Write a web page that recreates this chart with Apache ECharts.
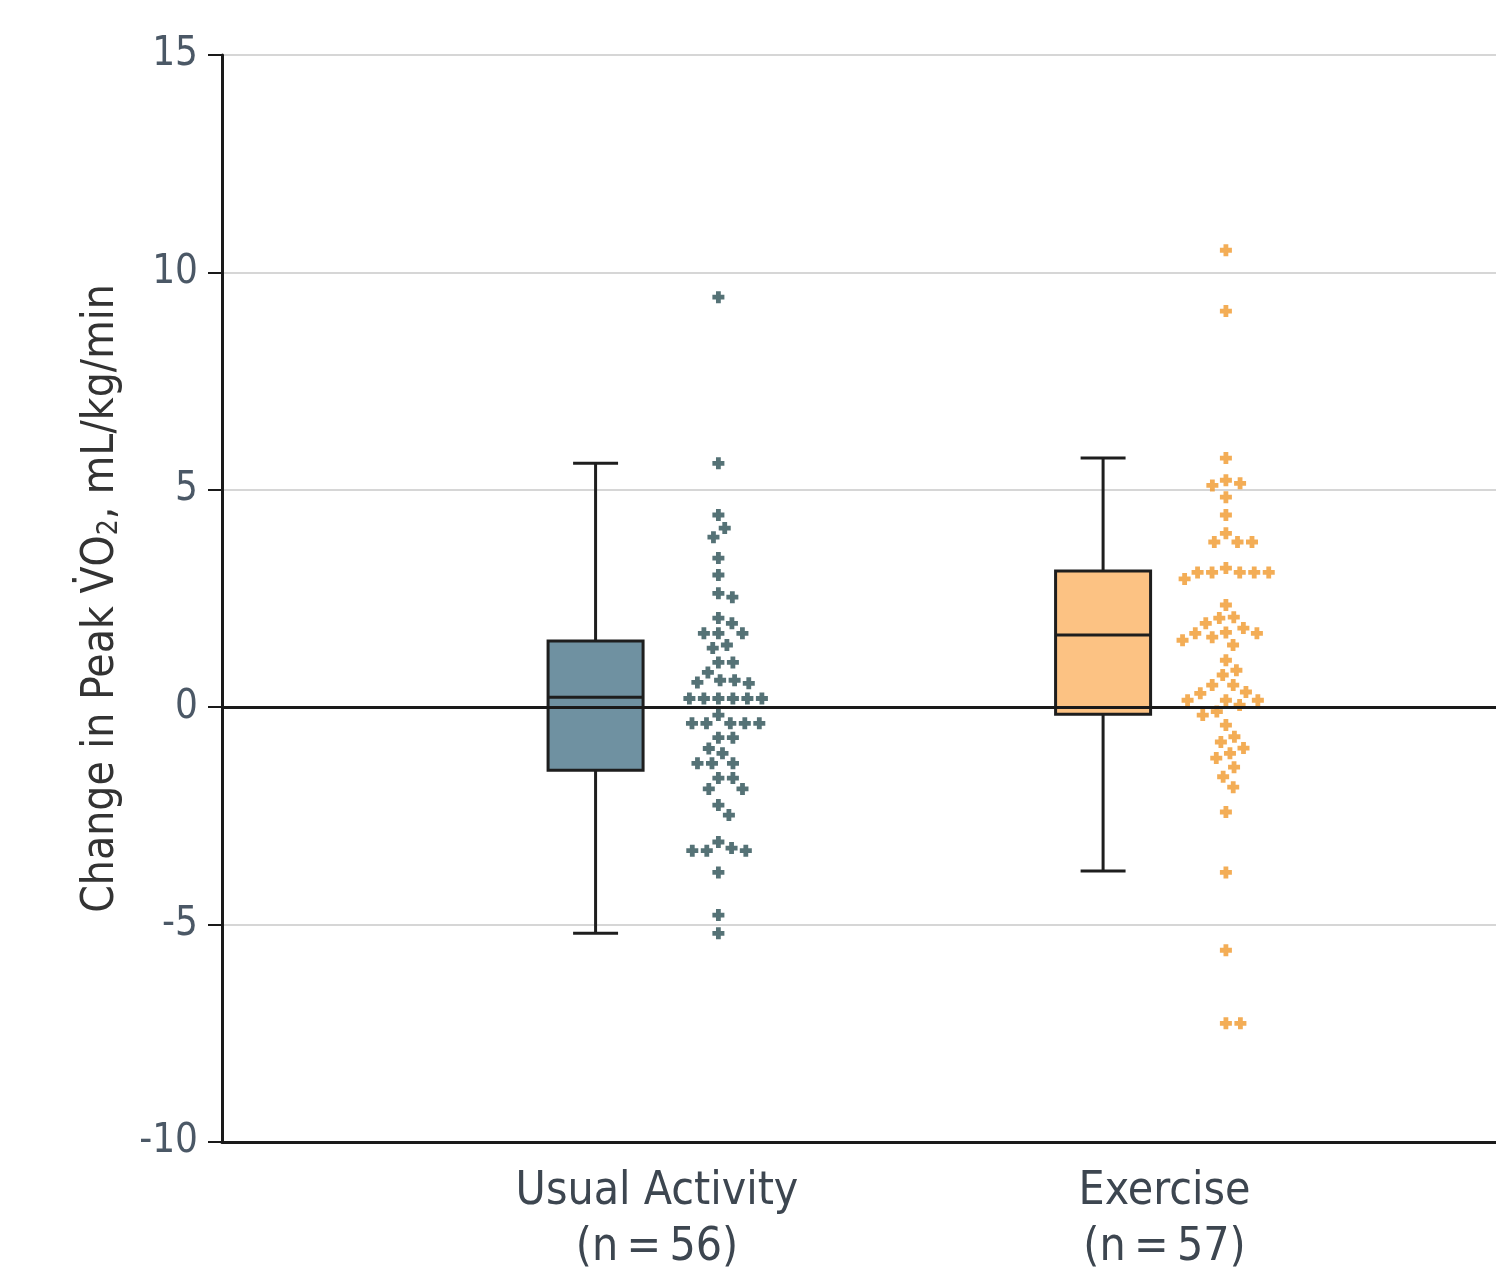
<!DOCTYPE html>
<html>
<head>
<meta charset="utf-8">
<script src="https://cdn.jsdelivr.net/npm/echarts@6/dist/echarts.min.js"></script>
<style>
  html, body { margin: 0; padding: 0; background: #ffffff; }
  #chart { width: 1496px; height: 1280px; }
</style>
</head>
<body>
<div id="chart"></div>
<script>
// ---------------- data ----------------
const categories = ['Usual Activity', 'Exercise'];
const groupSizes = [56, 57];
const groupPositions = [1, 2];

// individual changes in peak VO2 (mL/kg/min)
const usualValues = [
  9.43, 5.61, 4.42, 4.12, 3.91, 3.43, 3.04, 2.62, 2.53,
  2.05, 1.93, 1.70, 1.70, 1.70, 1.43, 1.36, 1.03, 1.03,
  0.80, 0.62, 0.62, 0.57, 0.55,
  0.20, 0.20, 0.20, 0.20, 0.20, 0.20,
  -0.18, -0.37, -0.37, -0.37, -0.37, -0.37,
  -0.70, -0.70, -0.95, -1.06, -1.29, -1.29, -1.29,
  -1.63, -1.63, -1.88, -1.88, -2.25, -2.48,
  -3.10, -3.24, -3.30, -3.30, -3.30, -3.80, -4.78, -5.20
];
const exerciseValues = [
  10.51, 9.11, 5.73, 5.22, 5.15, 5.10, 4.83, 4.42,
  4.00, 3.80, 3.80, 3.80,
  3.20, 3.10, 3.10, 3.10, 3.10, 3.10, 2.95,
  2.35, 2.07, 2.05, 1.93,
  1.82, 1.72, 1.70, 1.70, 1.61, 1.54, 1.43,
  1.08, 0.85, 0.74, 0.51, 0.51, 0.32, 0.35,
  0.16, 0.16, 0.16, 0.05, -0.10,
  -0.18, -0.41, -0.68, -0.80, -0.94, -1.06, -1.17,
  -1.38, -1.60, -1.84, -2.41, -3.80, -5.59, -7.27, -7.27
];
// [whisker low, Q1, median, Q3, whisker high]
const usualBox = [-5.20, -1.45, 0.23, 1.52, 5.61];
const exerciseBox = [-3.77, -0.16, 1.66, 3.13, 5.73];

const yMin = -10, yMax = 15, yInterval = 5;
const yAxisTitle = 'Change in Peak V\u0307O';

// ---------------- layout / style ----------------
const GRID = { left: 222, right: 0, top: 55, bottom: 138 };
const X_MIN = 0.1429, X_MAX = 2.6532;
const BOX_SHIFT = -0.121, DOT_SHIFT = 0.121;
const BOX_HALF = 0.0936, CAP_HALF = 0.0443;
const boxColors = ['#6f91a1', '#fcc283'];
const dotColors = ['#2b4f54', '#f0982c'];
const FONT = '"Liberation Sans Narrow", "DejaVu Sans Condensed", "Noto Sans", sans-serif';

const W = 1496, H = 1280;
const pxPerX = (W - GRID.left - GRID.right) / (X_MAX - X_MIN);
const pxPerY = (H - GRID.top - GRID.bottom) / (yMax - yMin);

// beeswarm layout: offsets computed from the values
function swarm(values, diameter) {
  const order = values.map((v, i) => i).sort((a, b) => values[b] - values[a]);
  const placed = [];
  const offsets = new Array(values.length).fill(0);
  order.forEach(i => {
    const y = values[i] * pxPerY;
    const near = placed.filter(p => Math.abs(p.y - y) < diameter);
    const cands = [0];
    near.forEach(p => {
      const dx = Math.sqrt(diameter * diameter - (p.y - y) * (p.y - y));
      cands.push(p.x + dx, p.x - dx);
    });
    cands.sort((a, b) => Math.abs(a) - Math.abs(b) || b - a);
    let chosen = 0;
    for (const c of cands) {
      const ok = near.every(p => {
        const dx = p.x - c, dy = p.y - y;
        return dx * dx + dy * dy >= diameter * diameter - 0.01;
      });
      if (ok) { chosen = c; break; }
    }
    placed.push({ x: chosen, y: y });
    offsets[i] = chosen / pxPerX;
  });
  return offsets;
}

function dotData(values, g) {
  const off = swarm(values, 14.5);
  return values.map((v, i) => [groupPositions[g] + DOT_SHIFT + off[i], v]);
}

const boxData = [
  [groupPositions[0] + BOX_SHIFT].concat(usualBox),
  [groupPositions[1] + BOX_SHIFT].concat(exerciseBox)
];

function renderBox(params, api) {
  const x = api.value(0);
  const lo = api.value(1), q1 = api.value(2), med = api.value(3), q3 = api.value(4), hi = api.value(5);
  const pL = api.coord([x - BOX_HALF, q3]);
  const pR = api.coord([x + BOX_HALF, q1]);
  const cL = api.coord([x - CAP_HALF, hi]);
  const cR = api.coord([x + CAP_HALF, lo]);
  const c = api.coord([x, med]);
  const stroke = { stroke: '#1e1e1e', lineWidth: 3 };
  return {
    type: 'group',
    children: [
      { type: 'line', shape: { x1: c[0], y1: cL[1], x2: c[0], y2: pL[1] }, style: stroke },
      { type: 'line', shape: { x1: c[0], y1: pR[1], x2: c[0], y2: cR[1] }, style: stroke },
      { type: 'line', shape: { x1: cL[0], y1: cL[1], x2: cR[0], y2: cL[1] }, style: stroke },
      { type: 'line', shape: { x1: cL[0], y1: cR[1], x2: cR[0], y2: cR[1] }, style: stroke },
      { type: 'rect', shape: { x: pL[0], y: pL[1], width: pR[0] - pL[0], height: pR[1] - pL[1] },
        style: { fill: boxColors[params.dataIndex], stroke: '#1e1e1e', lineWidth: 3 } },
      { type: 'line', shape: { x1: pL[0], y1: c[1], x2: pR[0], y2: c[1] }, style: stroke }
    ]
  };
}

const plusSymbol = 'path://M3,0H7V3H10V7H7V10H3V7H0V3H3Z';

const chart = echarts.init(document.getElementById('chart'), null, { renderer: 'canvas' });
chart.setOption({
  backgroundColor: '#ffffff',
  animation: false,
  grid: GRID,
  xAxis: {
    type: 'value', min: X_MIN, max: X_MAX,
    splitLine: { show: false },
    axisLine: { onZero: false, lineStyle: { color: '#1a1a1a', width: 3 } },
    axisTick: { show: false },
    axisLabel: {
      customValues: groupPositions,
      margin: 22,
      fontFamily: FONT, fontSize: 46, color: '#3d4650', lineHeight: 56,
      formatter: v => {
        const g = groupPositions.indexOf(Math.round(v));
        return g < 0 ? '' : categories[g] + '\n(n\u2009=\u2009' + groupSizes[g] + ')';
      }
    }
  },
  yAxis: {
    type: 'value', min: yMin, max: yMax, interval: yInterval,
    name: yAxisTitle + '{sub|2}, mL/kg/min',
    nameLocation: 'middle', nameGap: 98, nameRotate: 90,
    nameTextStyle: {
      fontFamily: FONT, fontSize: 44, color: '#333333',
      rich: { sub: { fontFamily: FONT, fontSize: 28, color: '#333333', verticalAlign: 'bottom', padding: [16, 0, 0, 0] } }
    },
    axisLine: { show: true, lineStyle: { color: '#1a1a1a', width: 3 } },
    axisTick: { show: true, length: 14, lineStyle: { color: '#1a1a1a', width: 2 } },
    axisLabel: { fontFamily: FONT, fontSize: 40, color: '#4b5866', margin: 24 },
    splitLine: { show: true, lineStyle: { color: '#d6d6d6', width: 2 } }
  },
  series: [
    {
      type: 'line', data: [], z: 1,
      markLine: {
        silent: true, symbol: 'none', label: { show: false },
        lineStyle: { color: '#1a1a1a', width: 3, type: 'solid' },
        data: [{ yAxis: 0 }]
      }
    },
    {
      type: 'custom', renderItem: renderBox, data: boxData, z: 3,
      encode: { x: 0, y: [1, 2, 3, 4, 5] }
    },
    {
      type: 'scatter', data: dotData(usualValues, 0), z: 4,
      symbol: plusSymbol, symbolSize: 12,
      itemStyle: { color: dotColors[0] }
    },
    {
      type: 'scatter', data: dotData(exerciseValues, 1), z: 4,
      symbol: plusSymbol, symbolSize: 12,
      itemStyle: { color: dotColors[1] }
    }
  ]
});
</script>
</body>
</html>
